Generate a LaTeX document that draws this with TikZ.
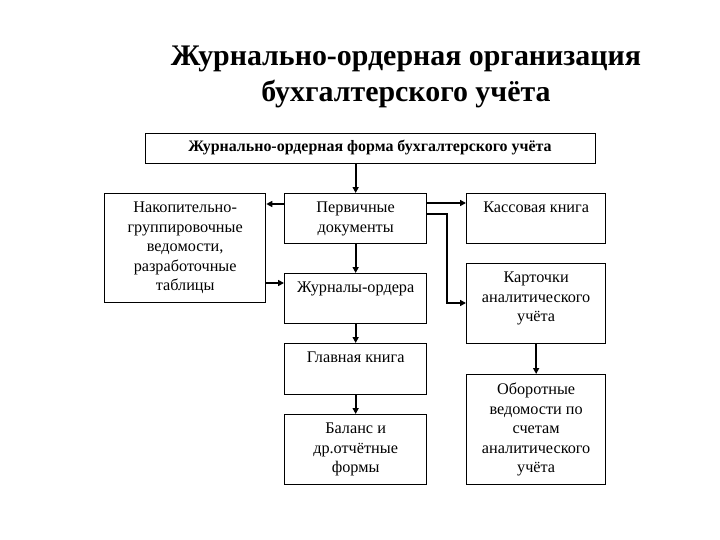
\documentclass[tikz,border=0pt]{standalone}
\usepackage{fontspec}
\setmainfont{Liberation Serif}
\usetikzlibrary{arrows.meta,positioning}
\tikzset{
  box/.style={draw=black, line width=1.3pt, anchor=north west, inner sep=0pt},
  btext/.style={anchor=north, align=center, inner sep=0pt, font=\fontsize{16.3}{19.5}\selectfont},
  arr/.style={line width=1.8pt, -{Triangle[length=6pt,width=6pt]}},
}
\begin{document}
\begin{tikzpicture}[x=1bp,y=-1bp]
\useasboundingbox (0,0) rectangle (720,540);
% title
\node[font=\fontsize{30}{37}\selectfont\bfseries, align=center, anchor=center] (title) at (406,77) {Журнально-ордерная организация\\бухгалтерского учёта};
% top box
\node[box, minimum width=450bp, minimum height=30bp] (top) at (145,133) {};
\node[font=\fontsize{16}{18}\selectfont\bfseries] (toptext) at (370,148) {Журнально-ордерная форма бухгалтерского учёта};
% boxes
\node[box, minimum width=161bp, minimum height=109bp] (nak) at (104,193) {};
\node[box, minimum width=142bp, minimum height=50bp] (perv) at (284,193) {};
\node[box, minimum width=142bp, minimum height=50bp] (jur) at (284,273) {};
\node[box, minimum width=142bp, minimum height=51bp] (glav) at (284,343) {};
\node[box, minimum width=142bp, minimum height=70bp] (bal) at (284,414) {};
\node[box, minimum width=139bp, minimum height=50bp] (kas) at (466,193) {};
\node[box, minimum width=139bp, minimum height=80bp] (kar) at (466,263) {};
\node[box, minimum width=139bp, minimum height=110bp] (obo) at (466,374) {};
% texts
\node[btext] (naktext) at ([yshift=-9bp]nak.north) {Накопительно-\\группировочные\\ведомости,\\разработочные\\таблицы};
\node[btext] (pervtext) at ([yshift=-9bp]perv.north) {Первичные\\документы};
\node[btext] (jurtext) at ([yshift=-9bp]jur.north) {Журналы-ордера};
\node[btext] (glavtext) at ([yshift=-9bp]glav.north) {Главная книга};
\node[btext] (baltext) at ([yshift=-9bp]bal.north) {Баланс и\\др.отчётные\\формы};
\node[btext] (kastext) at ([yshift=-9bp]kas.north) {Кассовая книга};
\node[btext] (kartext) at ([yshift=-9bp]kar.north) {Карточки\\аналитического\\учёта};
\node[btext] (obotext) at ([yshift=-9bp]obo.north) {Оборотные\\ведомости по\\счетам\\аналитического\\учёта};
% connectors
\draw[arr] (top.south -| perv.north) -- (perv.north);
\draw[arr] (perv.west |- 0,204) -- (nak.east |- 0,204);
\draw[arr] (nak.east |- 0,283) -- (jur.west |- 0,283);
\draw[arr] (perv.south) -- (jur.north);
\draw[arr] (perv.east |- 0,203) -- (kas.west |- 0,203);
\coordinate (bend1) at (447,214);
\coordinate (bend2) at (447,303);
\draw[arr] (perv.east |- bend1) -- (bend1) -- (bend2) -- (kar.west |- bend2);
\draw[arr] (jur.south) -- (glav.north);
\draw[arr] (glav.south) -- (bal.north);
\draw[arr] (kar.south) -- (obo.north);
\end{tikzpicture}
\end{document}
